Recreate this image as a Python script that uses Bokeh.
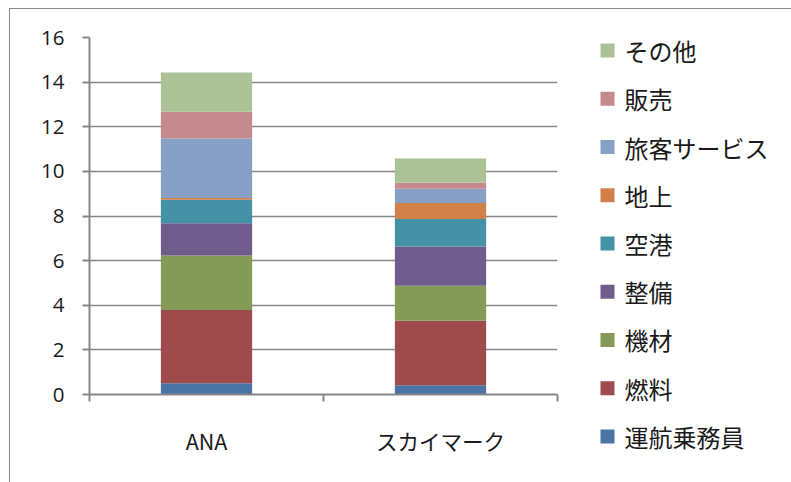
from bokeh.plotting import figure
from bokeh.layouts import row
from bokeh.models import ColumnDataSource, Range1d, FixedTicker, FactorRange
from bokeh.core.properties import value
from bokeh.embed import file_html
from bokeh.resources import INLINE

categories = ["ANA", "スカイマーク"]
series = ["運航乗務員", "燃料", "機材", "整備", "空港", "地上", "旅客サービス", "販売", "その他"]
ana = [0.50, 3.29, 2.44, 1.45, 1.05, 0.08, 2.66, 1.20, 1.76]
skymark = [0.42, 2.89, 1.56, 1.76, 1.24, 0.71, 0.64, 0.27, 1.09]
colors = ["#4A74A3", "#9F4B4D", "#849B57", "#6F5B8C", "#4591A5",
          "#D2804A", "#87A1C6", "#C68A8E", "#ABC196"]
y_ticks = [0, 2, 4, 6, 8, 10, 12, 14, 16]

values = [ana, skymark]
xs = [i + 0.5 for i in range(len(categories))]
data = {"x": xs}
for j, s in enumerate(series):
    data[s] = [v[j] for v in values]
source = ColumnDataSource(data)

GREY = "#878787"
JP = "Noto Sans CJK JP"
TXT = "#1a1a1a"

# ---------------- main chart ----------------
p = figure(width=570, height=473, output_backend="svg", toolbar_location=None,
           x_range=Range1d(0, len(categories)), y_range=Range1d(0, 16),
           min_border_left=79, min_border_right=23, min_border_top=28,
           min_border_bottom=88)
p.outline_line_color = None
p.background_fill_color = "white"
p.border_fill_color = "white"

renderers = p.vbar_stack(series, x="x", width=0.39, color=colors, source=source,
                         line_color=None)

yax = p.yaxis[0]
yax.ticker = FixedTicker(ticks=y_ticks)
yax.axis_line_color = GREY
yax.axis_line_width = 2
yax.major_tick_line_color = GREY
yax.major_tick_line_width = 2
yax.major_tick_in = 0
yax.major_tick_out = 7
yax.minor_tick_line_color = None
yax.major_label_standoff = 18
yax.major_label_text_font = "Open Sans"
yax.major_label_text_font_size = "20.5px"
yax.major_label_text_color = TXT

xax = p.xaxis[0]
xax.ticker = FixedTicker(ticks=xs, minor_ticks=list(range(len(categories) + 1)))
xax.major_label_overrides = {x: c for x, c in zip(xs, categories)}
xax.axis_line_color = GREY
xax.axis_line_width = 2
xax.major_tick_line_color = None
xax.major_tick_out = 0
xax.major_tick_in = 0
xax.minor_tick_line_color = GREY
xax.minor_tick_line_width = 2
xax.minor_tick_in = 0
xax.minor_tick_out = 7
xax.major_label_standoff = 23
xax.major_label_text_font = JP
xax.major_label_text_font_size = "21.5px"
xax.major_label_text_color = TXT

p.xgrid.grid_line_color = None
p.ygrid.ticker = FixedTicker(ticks=y_ticks)
p.ygrid.grid_line_color = GREY
p.ygrid.grid_line_width = 1.7

# ---------------- legend panel ----------------
leg_src = ColumnDataSource({"name": series, "color": colors})
lg = figure(width=211, height=473, output_backend="svg", toolbar_location=None,
            x_range=Range1d(0, 211), y_range=FactorRange(factors=series, range_padding=0),
            min_border_left=0, min_border_right=0, min_border_top=17,
            min_border_bottom=22)
lg.outline_line_color = None
lg.axis.visible = False
lg.grid.grid_line_color = None
lg.border_fill_color = "white"
lg.scatter(x=27, y="name", marker="square", size=14, fill_color="color",
           line_color=None, source=leg_src)
lg.text(x=44, y="name", text="name", source=leg_src, text_baseline="middle",
        text_font=value(JP), text_font_size="24px", text_color=TXT)

for fig in (p, lg):
    if "frame_align" in fig.properties():
        fig.frame_align = False

layout = row(p, lg, spacing=0)
layout.styles = {"margin-left": "9px", "margin-top": "8px",
                 "border-left": "1px solid #878787", "border-top": "1px solid #878787"}

open("out.html", "w").write(file_html(layout, INLINE))
